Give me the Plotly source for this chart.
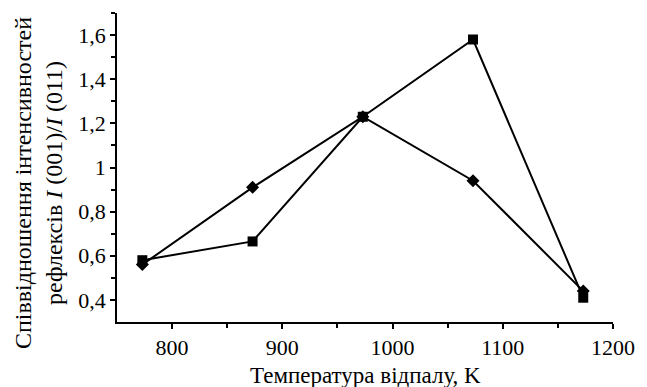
import plotly.graph_objects as go

temp_sq = [773, 873, 973, 1073, 1173]
ratio_sq = [0.58, 0.665, 1.23, 1.58, 0.41]
temp_di = [773, 873, 973, 1073, 1173]
ratio_di = [0.56, 0.91, 1.23, 0.94, 0.44]

x_ticks = [800, 900, 1000, 1100, 1200]
x_labels = ["800", "900", "1000", "1100", "1200"]
y_ticks = [0.4, 0.6, 0.8, 1.0, 1.2, 1.4, 1.6]
y_labels = ["0,4", "0,6", "0,8", "1", "1,2", "1,4", "1,6"]

font = "Liberation Serif, Times New Roman, serif"

fig = go.Figure()
fig.add_trace(go.Scatter(x=temp_di, y=ratio_di, mode="lines+markers",
                         line=dict(color="black", width=2),
                         marker=dict(symbol="diamond", size=10, color="black")))
fig.add_trace(go.Scatter(x=temp_sq, y=ratio_sq, mode="lines+markers",
                         line=dict(color="black", width=2),
                         marker=dict(symbol="square", size=10, color="black")))

fig.update_layout(
    width=647, height=387,
    margin=dict(l=109, r=42, t=5, b=73),
    paper_bgcolor="white", plot_bgcolor="white",
    showlegend=False,
    font=dict(family=font, size=22, color="black"),
    xaxis=dict(range=[750, 1200], tickvals=x_ticks, ticktext=x_labels,
               showline=True, linecolor="black", linewidth=1.5,
               ticks="outside", ticklen=5, tickwidth=1.5, tickcolor="black",
               tickfont=dict(size=22, color="black"),
               showgrid=False, zeroline=False,
               minor=dict(tickvals=[850, 950, 1050, 1150], ticks="outside", ticklen=4, tickwidth=1.5, tickcolor="black")),
    yaxis=dict(range=[0.3, 1.7], tickvals=y_ticks, ticktext=y_labels,
               showline=True, linecolor="black", linewidth=1.5,
               ticks="outside", ticklen=5, tickwidth=1.5, tickcolor="black",
               tickfont=dict(size=22, color="black"),
               showgrid=False, zeroline=False,
               minor=dict(tickvals=[0.5, 0.7, 0.9, 1.1, 1.3, 1.5, 1.7], ticks="outside", ticklen=4, tickwidth=1.5, tickcolor="black")),
    annotations=[
        dict(text="Співвідношення інтенсивностей<br>рефлексів <i>I</i> (001)/<i>I</i> (011)",
             xref="paper", yref="paper", x=-0.157, y=0.45, xanchor="center", yanchor="middle",
             textangle=-90, showarrow=False, font=dict(size=24, family=font, color="black"), align="center"),
        dict(text="Температура відпалу, K",
             xref="paper", yref="paper", x=0.5, y=-0.172, xanchor="center", yanchor="middle",
             showarrow=False, font=dict(size=23, family=font, color="black")),
    ],
)

fig.write_html("out.html")
